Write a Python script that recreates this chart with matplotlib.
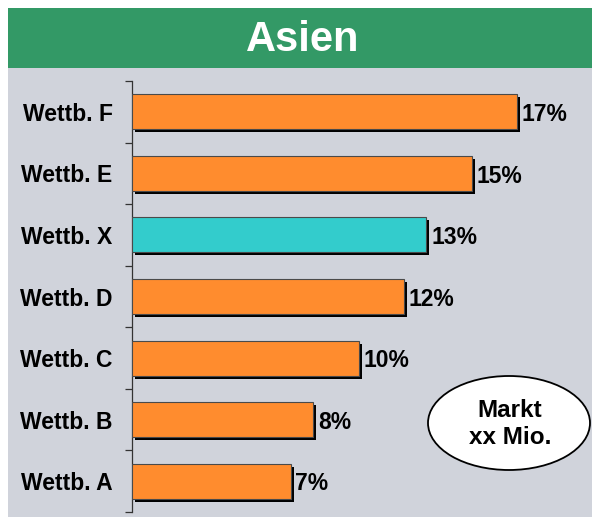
import matplotlib
matplotlib.use("Agg")
import matplotlib.pyplot as plt
from matplotlib.patches import Rectangle, Ellipse
from matplotlib.transforms import ScaledTranslation

plt.rcParams['font.family'] = ['Liberation Sans', 'DejaVu Sans']

title = "Asien"
categories = ["Wettb. F", "Wettb. E", "Wettb. X", "Wettb. D", "Wettb. C", "Wettb. B", "Wettb. A"]
values = [17, 15, 13, 12, 10, 8, 7]
highlight = "Wettb. X"
note_text = "Markt\nxx Mio."

orange = "#FF8C2E"
cyan = "#33CCCC"
green = "#339966"
panel = "#D0D3DB"

W, H = 592, 517
dpi = 100
fig = plt.figure(figsize=(W / dpi, H / dpi), dpi=dpi, facecolor="white")

# background panel and title banner
fig.add_artist(Rectangle((8 / W, 0), 1 - 8 / W, 1 - 68 / H, transform=fig.transFigure,
                         facecolor=panel, edgecolor="none", zorder=0))
fig.add_artist(Rectangle((8 / W, 1 - 68 / H), 1 - 8 / W, 60 / H, transform=fig.transFigure,
                         facecolor=green, edgecolor="none", zorder=0))
fig.text((8 + W) / 2 / W + 0.004, 1 - 40 / H, title, color="white", fontsize=30,
         fontweight="bold", ha="center", va="center")

ax = fig.add_axes([132 / W, (H - 512) / H, (585 - 132) / W, (512 - 81) / H])
ax.set_facecolor("none")

n = len(categories)
ypos = list(range(n))[::-1]  # first category on top
colors = [cyan if c == highlight else orange for c in categories]

bh = 0.57
shadow = ax.barh(ypos, values, height=bh, color="black", zorder=2)
off = ScaledTranslation(3 / dpi, -3 / dpi, fig.dpi_scale_trans)
for p in shadow:
    p.set_transform(ax.transData + off)
bars = ax.barh(ypos, values, height=bh, color=colors, edgecolor="#4a4a4a",
               linewidth=0.8, zorder=3)

for y, v in zip(ypos, values):
    ax.annotate(f"{v}%", (v, y), xytext=(3.3, -2), textcoords="offset points",
                ha="left", va="center", fontsize=16.5, fontweight="bold", zorder=4)

ax.set_xlim(0, 20)
ax.set_ylim(-0.5, n - 0.5)
ax.set_yticks(ypos)
ax.set_yticklabels(categories, fontsize=16.5, fontweight="bold")
for lbl in ax.get_yticklabels():
    lbl.set_transform(lbl.get_transform() + ScaledTranslation(0, -1.5 / dpi, fig.dpi_scale_trans))
ax.set_yticks([i - 0.5 for i in range(n + 1)], minor=True)
ax.tick_params(axis="y", which="major", length=0, pad=14)
ax.tick_params(axis="y", which="minor", length=5, width=0.9, color="#333333")
ax.set_xticks([])
for s in ["top", "right", "bottom"]:
    ax.spines[s].set_visible(False)
ax.spines["left"].set_color("#333333")
ax.spines["left"].set_linewidth(0.9)

# market size bubble
fig.add_artist(Ellipse((509 / W, 1 - 423 / H), 162 / W, 94 / H, transform=fig.transFigure,
                       facecolor="white", edgecolor="black", linewidth=1.3, zorder=5))
fig.text(510 / W, 1 - 424 / H, note_text, ha="center", va="center", fontsize=17.5,
         fontweight="bold", linespacing=1.2, zorder=6)

fig.savefig("out.png", dpi=dpi, facecolor="white")
